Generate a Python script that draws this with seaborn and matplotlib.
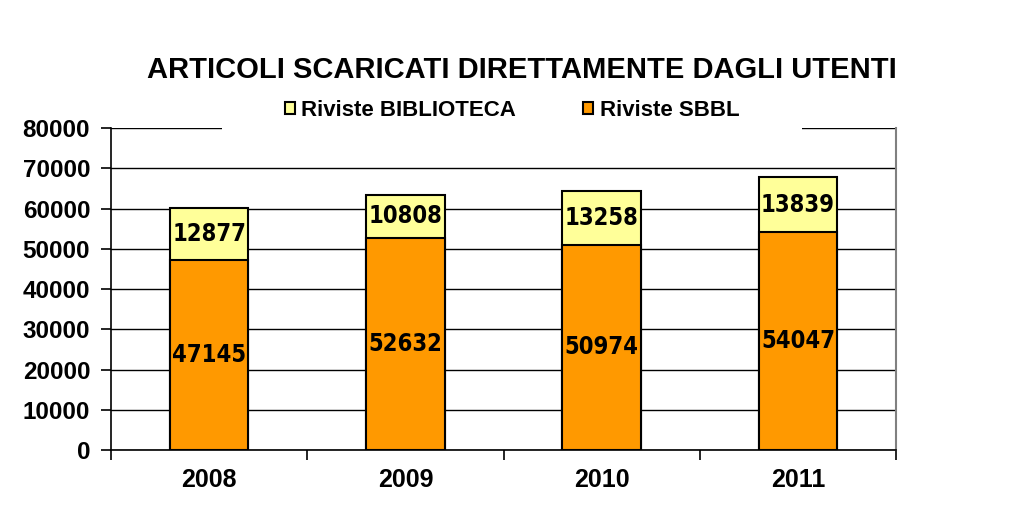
import numpy as np
import matplotlib
matplotlib.use("Agg")
import matplotlib.pyplot as plt
import matplotlib.patches as mpatches
import seaborn as sns

# ─── DATA ───────────────────────────────────────────────────────────────────
years = ["2008", "2009", "2010", "2011"]
sbbl = [47145, 52632, 50974, 54047]
biblio = [12877, 10808, 13258, 13839]
yticks = [0, 10000, 20000, 30000, 40000, 50000, 60000, 70000, 80000]

totals = [s + b for s, b in zip(sbbl, biblio)]

# ─── STYLE ──────────────────────────────────────────────────────────────────
sns.set_theme(style="white")
plt.rcParams['font.family'] = ['Liberation Sans', 'DejaVu Sans']
plt.rcParams.update({"text.color": "black", "xtick.color": "black",
                     "ytick.color": "black", "axes.labelcolor": "black"})

fig = plt.figure(figsize=(10.24, 5.12), dpi=100)
ax = fig.add_axes([0.1084, 0.121, 0.7666, 0.629])

# stacked bars: totals (yellow) behind, SBBL (orange) in front
sns.barplot(x=years, y=totals, color="#FFFF99", width=0.4, edgecolor="black",
            linewidth=1.5, saturation=1, label="Riviste BIBLIOTECA", ax=ax)
sns.barplot(x=years, y=sbbl, color="#FF9900", width=0.4, edgecolor="black",
            linewidth=1.5, saturation=1, label="Riviste SBBL", ax=ax)

# value labels (condensed bold, like Arial Narrow)
narrow = ['DejaVu Sans']
for i in range(len(years)):
    ax.text(i, sbbl[i] / 2, str(sbbl[i]), ha="center", va="center",
            fontsize=17, fontweight="bold", fontstretch="condensed",
            family=narrow)
    ax.text(i, sbbl[i] + biblio[i] / 2, str(biblio[i]), ha="center",
            va="center", fontsize=17, fontweight="bold",
            fontstretch="condensed", family=narrow)

# axes
ax.set_xlim(-0.5, 3.5)
ax.set_ylim(0, 80000)
ax.set_yticks(yticks)
ax.set_yticklabels([str(v) for v in yticks], fontsize=17.5, fontweight="bold")
ax.yaxis.grid(True, color="black", linewidth=1)
ax.set_axisbelow(True)

ax.set_xticks(np.arange(-0.5, 4, 1))
ax.set_xticklabels([])
ax.set_xticks(range(len(years)), minor=True)
ax.set_xticklabels(years, minor=True, fontsize=18, fontweight="bold")
ax.tick_params(axis="x", which="major", length=7, width=1.2, color="black",
               direction="out", bottom=True)
ax.tick_params(axis="x", which="minor", length=0, pad=13)
ax.tick_params(axis="y", length=7, width=1.2, color="black", direction="out",
               left=True, pad=8)

for side in ["left", "bottom"]:
    ax.spines[side].set_color("black")
    ax.spines[side].set_linewidth(1.2)
ax.spines["right"].set_color("#808080")
ax.spines["right"].set_linewidth(1.5)
ax.spines["top"].set_visible(False)
ax.set_xlabel("")
ax.set_ylabel("")

# white legend area hiding the middle of the top gridline
ax.add_patch(mpatches.Rectangle((0.141, 0.98), 0.739, 0.1,
                                transform=ax.transAxes, facecolor="white",
                                edgecolor="none", clip_on=False, zorder=4))

leg = ax.legend(loc="center", bbox_to_anchor=(0.5, 0.784),
                bbox_transform=fig.transFigure, ncol=2, frameon=False,
                handlelength=0.45, handleheight=0.45, handletextpad=0.3,
                columnspacing=3.0, borderpad=0.4,
                prop={"size": 16, "weight": "bold"})
leg.set_zorder(10)

fig.suptitle("ARTICOLI SCARICATI DIRETTAMENTE DAGLI UTENTI", x=0.51, y=0.89,
             fontsize=21, fontweight="bold")

plt.savefig("out.png", dpi=100)
